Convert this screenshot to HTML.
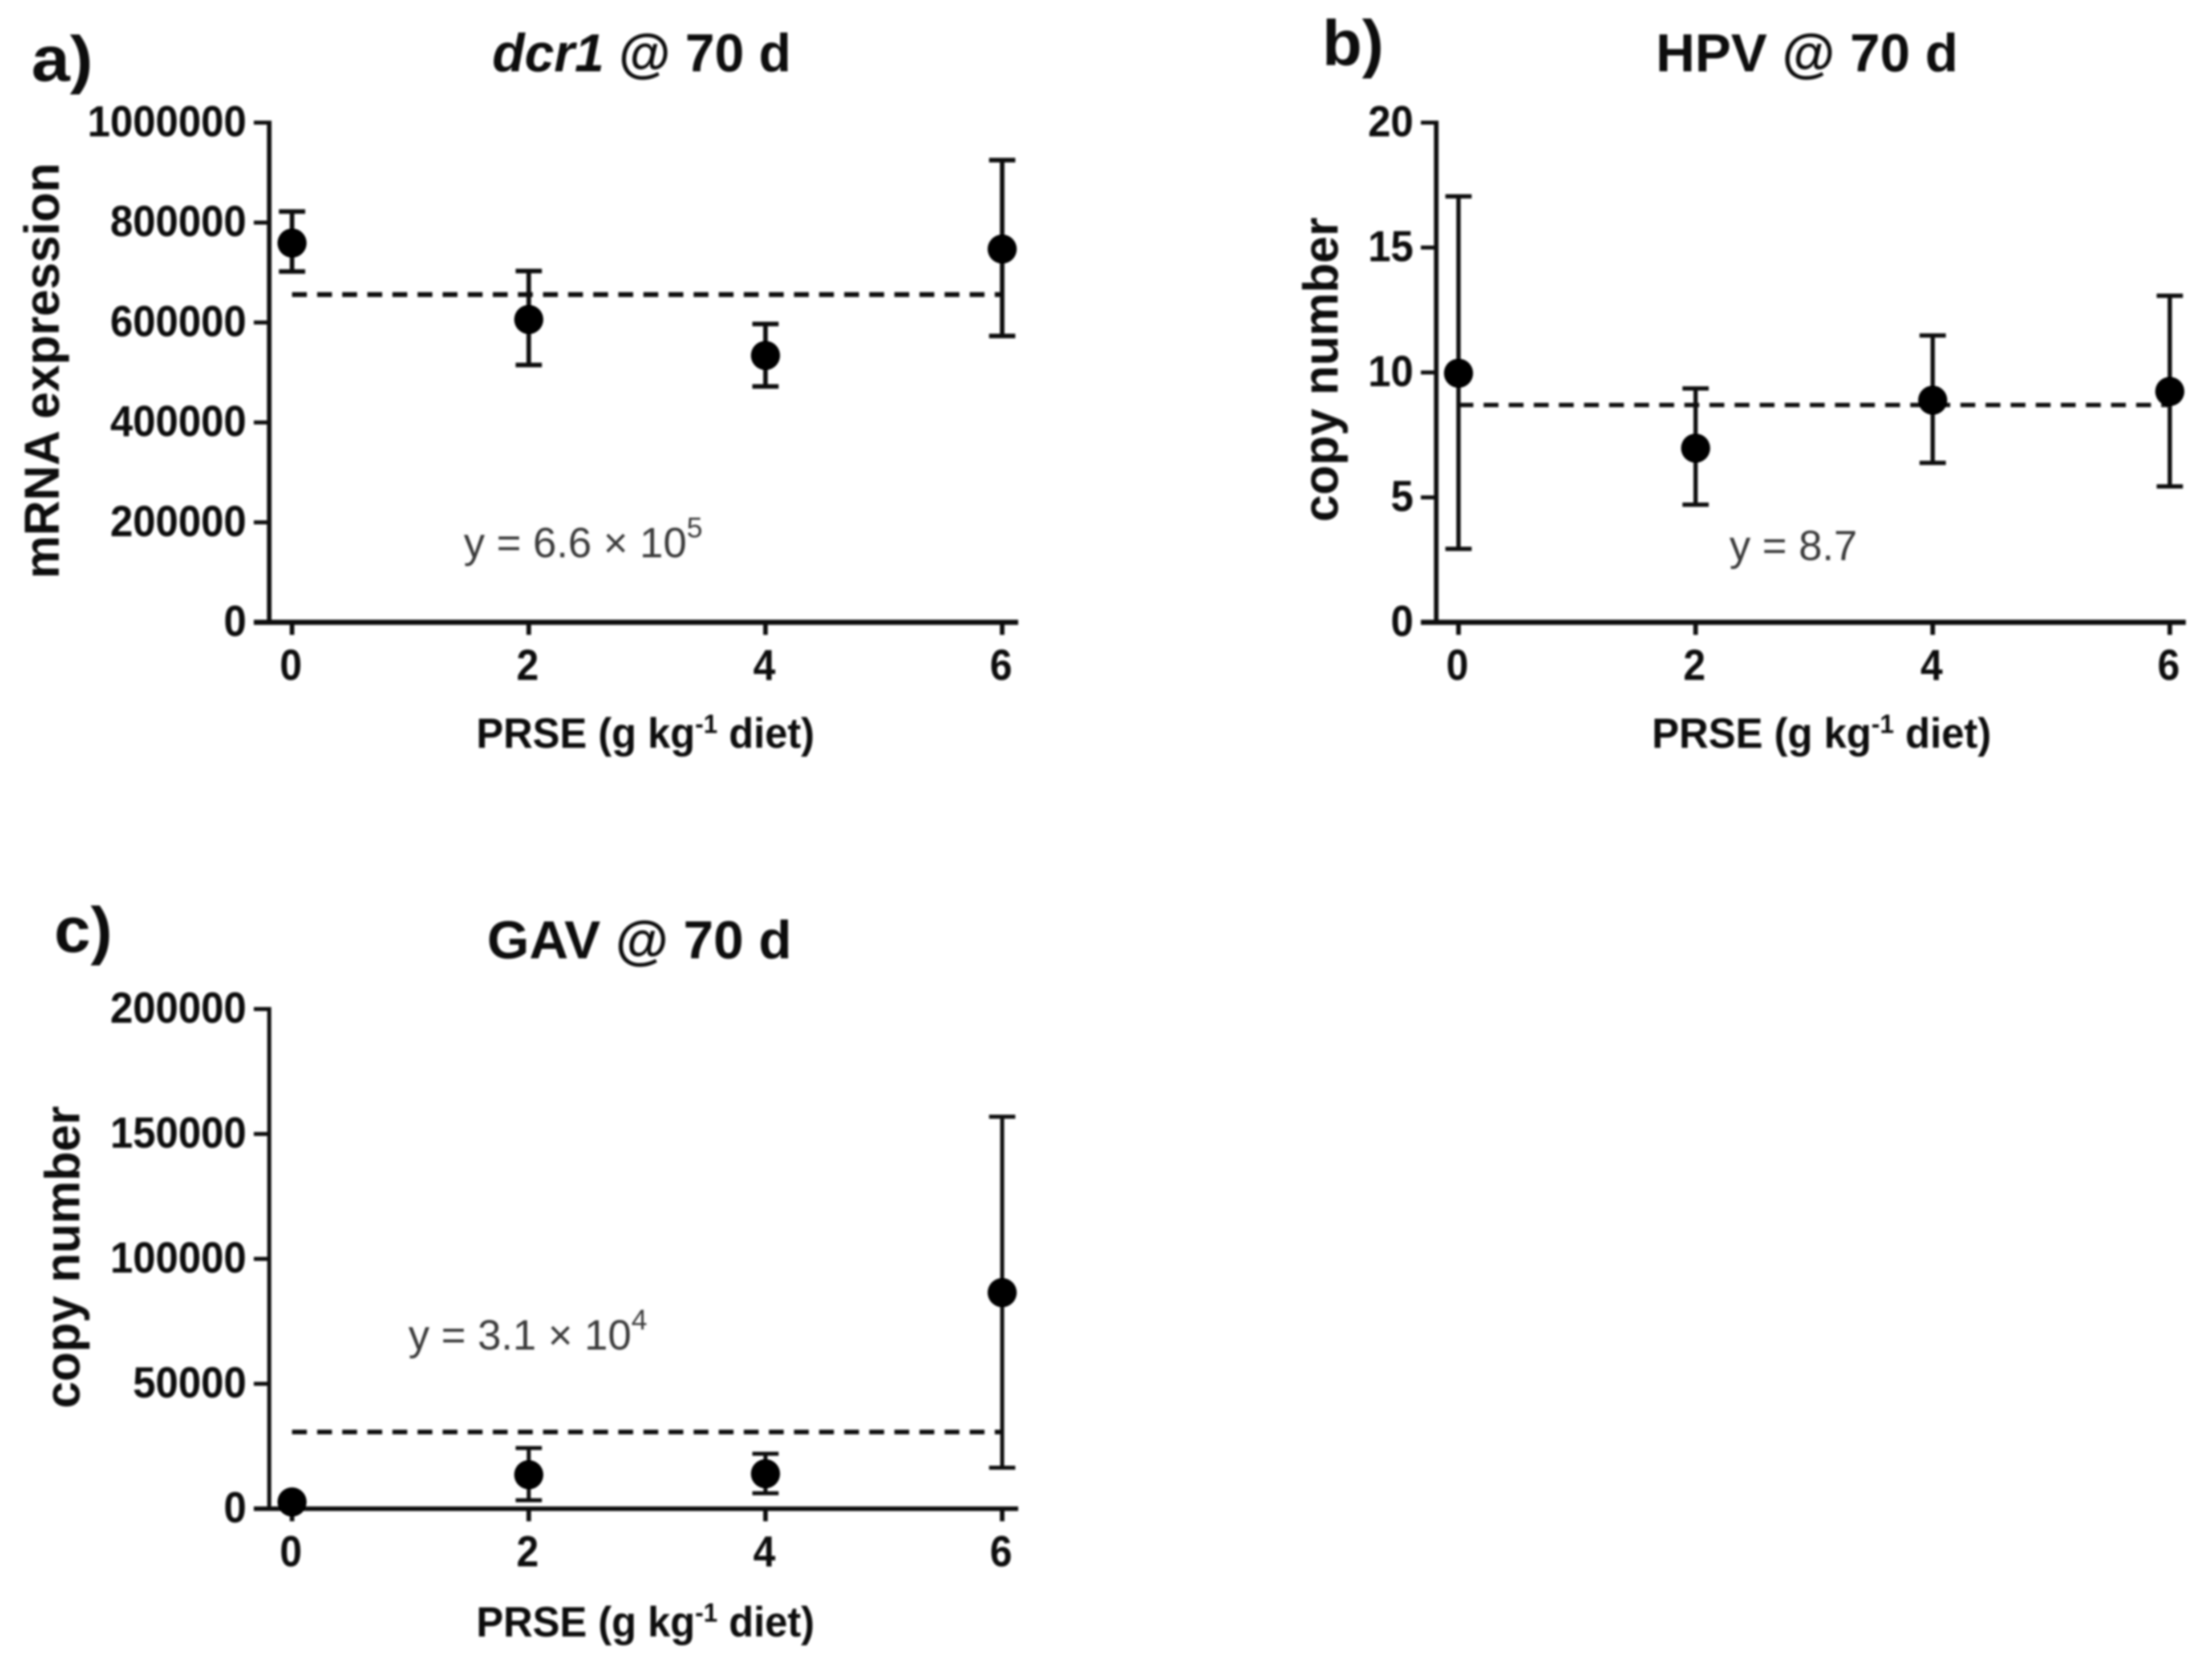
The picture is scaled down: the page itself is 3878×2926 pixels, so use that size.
<!DOCTYPE html>
<html lang="en">
<head>
<meta charset="utf-8">
<title>dcr1, HPV and GAV at 70 d</title>
<style>
html,body{margin:0;padding:0;background:#fff;}
svg{display:block;}
text{font-family:"Liberation Sans",Arial,sans-serif;fill:#0c0c0c;}
.bold{font-weight:700;}
.eq{font-weight:400;fill:#3a3a3a;}
</style>
</head>
<body>
<svg id="figure" xmlns="http://www.w3.org/2000/svg" width="3878" height="2926" viewBox="0 0 3878 2926">
<defs><filter id="soft" x="-2%" y="-2%" width="104%" height="104%"><feGaussianBlur stdDeviation="1.8"/></filter></defs>
<rect width="3878" height="2926" fill="#fff"/>
<g id="root" filter="url(#soft)">
  <text class="bold" x="55" y="142" font-size="112" textLength="108" lengthAdjust="spacingAndGlyphs">a)</text>
  <text class="bold" x="2318" y="114" font-size="112" textLength="108" lengthAdjust="spacingAndGlyphs">b)</text>
  <text class="bold" x="95" y="1669" font-size="112" textLength="102" lengthAdjust="spacingAndGlyphs">c)</text>

  <text class="bold" x="863" y="125" font-size="94" textLength="524" lengthAdjust="spacingAndGlyphs"><tspan font-style="italic">dcr1</tspan> @ 70 d</text>
  <text class="bold" x="2903" y="125" font-size="94" textLength="530" lengthAdjust="spacingAndGlyphs">HPV @ 70 d</text>
  <text class="bold" x="854" y="1680" font-size="94" textLength="534" lengthAdjust="spacingAndGlyphs">GAV @ 70 d</text>

  <text class="bold" transform="translate(103 650) rotate(-90)" text-anchor="middle" font-size="86" textLength="729" lengthAdjust="spacingAndGlyphs">mRNA expression</text>
  <text class="bold" transform="translate(2345 648) rotate(-90)" text-anchor="middle" font-size="86" textLength="534" lengthAdjust="spacingAndGlyphs">copy number</text>
  <text class="bold" transform="translate(139 2204) rotate(-90)" text-anchor="middle" font-size="86" textLength="530" lengthAdjust="spacingAndGlyphs">copy number</text>

  <text class="bold" x="835" y="1311" font-size="74" textLength="593" lengthAdjust="spacingAndGlyphs">PRSE (g kg<tspan dy="-26" font-size="46">-1</tspan><tspan dy="26"> diet)</tspan></text>
  <text class="bold" x="2896" y="1311" font-size="74" textLength="595" lengthAdjust="spacingAndGlyphs">PRSE (g kg<tspan dy="-26" font-size="46">-1</tspan><tspan dy="26"> diet)</tspan></text>
  <text class="bold" x="835" y="2869" font-size="74" textLength="593" lengthAdjust="spacingAndGlyphs">PRSE (g kg<tspan dy="-26" font-size="46">-1</tspan><tspan dy="26"> diet)</tspan></text>

  <text class="eq" x="813" y="977" font-size="74">y = 6.6 × 10<tspan dy="-35" font-size="50">5</tspan></text>
  <text class="eq" x="3032" y="982" font-size="74">y = 8.7</text>
  <text class="eq" x="716" y="2366" font-size="74">y = 3.1 × 10<tspan dy="-35" font-size="50">4</tspan></text>
</g>
</svg>
<script>
const doses = [0, 2, 4, 6];

const aTicks = [0, 200000, 400000, 600000, 800000, 1000000];
const aValues = [759000, 606000, 534000, 747000];
const aUpper = [822000, 703000, 597000, 925000];
const aLower = [702000, 515000, 472000, 573000];
const aMean = [656000];

const bTicks = [0, 5, 10, 15, 20];
const bValues = [9.97, 6.97, 8.89, 9.24];
const bUpper = [17.05, 9.36, 11.48, 13.07];
const bLower = [2.94, 4.71, 6.38, 5.44];
const bMean = [8.7];

const cTicks = [0, 50000, 100000, 150000, 200000];
const cValues = [2700, 13600, 14000, 86500];
const cUpper = [4500, 24300, 22000, 156900];
const cLower = [900, 3400, 6200, 16400];
const cMean = [30700];

const NS = 'http://www.w3.org/2000/svg';
const root = document.getElementById('root');

function mk(tag, attrs) {
  const el = document.createElementNS(NS, tag);
  for (const k in attrs) el.setAttribute(k, attrs[k]);
  root.appendChild(el);
  return el;
}

function line(x1, y1, x2, y2, w) {
  return mk('line', { x1: x1, y1: y1, x2: x2, y2: y2, stroke: '#0a0a0a', 'stroke-width': w });
}

function drawPanel(id, box, ticks, values, upper, lower, mean) {
  const yMax = ticks[ticks.length - 1];
  const xScale = d => box.x0 + (d - doses[0]) / (doses[doses.length - 1] - doses[0]) * (box.x6 - box.x0);
  const yScale = v => box.yBase - v / yMax * (box.yBase - box.yTop);

  const yAxis = line(box.axisX, box.yTop - 3.5, box.axisX, box.yBase, box.axisW);
  
  

  const xAxis = line(box.axisX - 27, box.yBase, box.xEnd, box.yBase, box.baseW);
  
  

  ticks.forEach(t => {
    const y = yScale(t);
    const tick = line(box.axisX - 27, y, box.axisX, y, 7);
    
    
    const label = String(t);
    const tl = mk('text', { x: box.axisX - 40, y: y + 24, 'text-anchor': 'end', 'font-size': 76, 'font-weight': 700,
      textLength: label.length * 39.8, lengthAdjust: 'spacingAndGlyphs' });
    tl.textContent = label;
    
    
  });

  doses.forEach(d => {
    const x = xScale(d);
    const tick = line(x, box.yBase, x, box.yBase + 22, 8);
    
    
    const tl = mk('text', { x: x - 2, y: box.yBase + 101, 'text-anchor': 'middle', 'font-size': 76, 'font-weight': 700,
      textLength: 39, lengthAdjust: 'spacingAndGlyphs' });
    tl.textContent = String(d);
    
    
  });

  const meanLine = mk('line', { x1: xScale(doses[0]), y1: yScale(mean[0]), x2: xScale(doses[3]), y2: yScale(mean[0]),
    stroke: '#0a0a0a', 'stroke-width': box.dashW, 'stroke-dasharray': box.dash });
  
  

  doses.forEach((d, i) => {
    const x = xScale(d);
    const stem = line(x, yScale(upper[i]), x, yScale(lower[i]), box.errW);
    
    
    const capHi = line(x - 23, yScale(upper[i]), x + 23, yScale(upper[i]), box.errW);
    
    
    const capLo = line(x - 23, yScale(lower[i]), x + 23, yScale(lower[i]), box.errW);
    
    
    const dot = mk('circle', { cx: x, cy: yScale(values[i]), r: 25.5, fill: '#030303' });
    
    
  });
}

drawPanel('a', { x0: 512, x6: 1757, axisX: 472, xEnd: 1785, yTop: 215, yBase: 1091, axisW: 8, baseW: 9, errW: 8, dashW: 8.5, dash: '26 18' },
  aTicks, aValues, aUpper, aLower, aMean);
drawPanel('b', { x0: 2557, x6: 3804, axisX: 2518, xEnd: 3832, yTop: 215, yBase: 1091, axisW: 8, baseW: 9, errW: 7.5, dashW: 7.5, dash: '26 18' },
  bTicks, bValues, bUpper, bLower, bMean);
drawPanel('c', { x0: 512, x6: 1757, axisX: 472, xEnd: 1785, yTop: 1769, yBase: 2645, axisW: 7, baseW: 8, errW: 7, dashW: 8, dash: '26 18' },
  cTicks, cValues, cUpper, cLower, cMean);
</script>
</body>
</html>
